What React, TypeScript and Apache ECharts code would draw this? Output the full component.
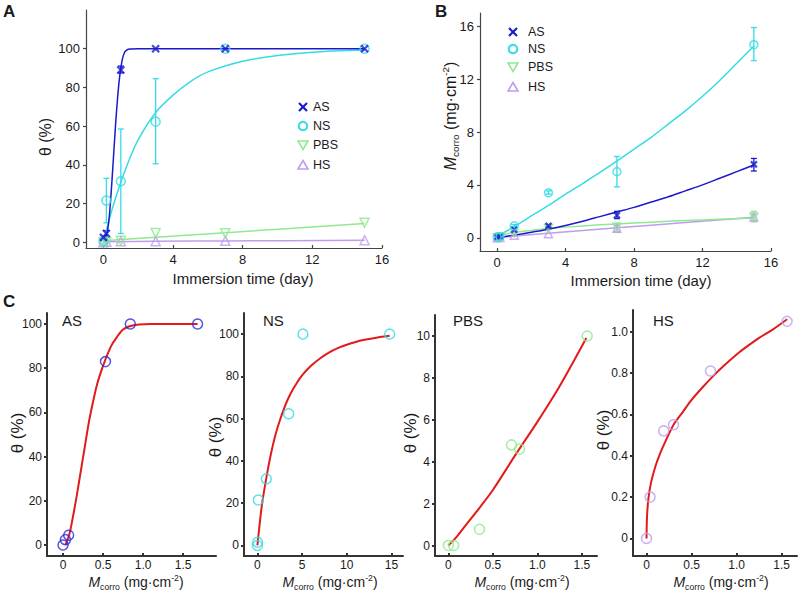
import React, { useEffect, useRef } from "react";
import * as echarts from "echarts";

// ---------- Panel A: theta (%) vs immersion time ----------
const timeA = [0, 0.17, 1, 3, 7, 15];
const thetaAS_A = [2.5, 4.5, 89, 100, 100, 100];
const thetaNS_A = [0.5, 21.5, 31.5, 62.3, 100, 100];
const thetaPBS_A = [0, 0, 0.8, 4.8, 4.6, 10];
const thetaHS_A = [0, 0.2, 0.52, 0.55, 0.81, 1.05];
const errAS_A = [[0.17, 2.5, 6], [1, 87.5, 91]];
const errNS_A = [[0.17, 10, 33], [1, 4.5, 58.5], [3, 40.5, 84.5]];
const fitAS_A_t = [0.1, 0.2, 0.3, 0.4, 0.5, 0.6, 0.7, 0.8, 0.9, 1.0, 1.1, 1.2, 1.3, 1.5, 2, 15];
const fitAS_A_v = [0, 4, 10, 20, 33, 47, 61, 73, 83, 90, 95, 97.8, 99, 99.8, 100, 100];
const fitNS_A_t = [0, 0.5, 1, 1.5, 2, 3, 4, 5, 6, 8, 10, 12, 15];
const fitNS_A_v = [0, 17, 31, 43, 53, 67, 76, 83, 88, 93.5, 96.5, 98.2, 99.3];
const fitPBS_A_t = [0, 3, 7, 15];
const fitPBS_A_v = [0.8, 2.6, 4.9, 9.6];
const fitHS_A_t = [0, 3, 7, 15];
const fitHS_A_v = [0.2, 0.45, 0.65, 1.0];

// ---------- Panel B: M_corro vs immersion time ----------
const timeB = [0, 0.17, 1, 3, 7, 15];
const mAS_B = [0.05, 0.1, 0.6, 0.9, 1.7, 5.55];
const mNS_B = [0.05, 0.1, 0.9, 3.4, 5.0, 14.6];
const mPBS_B = [0, 0.05, 0.35, 0.7, 0.8, 1.57];
const mHS_B = [0, 0.03, 0.2, 0.3, 0.72, 1.57];
const errAS_B = [[3, 0.8, 1.0], [7, 1.45, 2.0], [15, 5.05, 6.0]];
const errNS_B = [[1, 0.8, 1.0], [3, 3.3, 3.55], [7, 3.85, 6.15], [15, 13.4, 15.9]];
const errPBS_B = [[7, 0.4, 1.1], [15, 1.2, 2.0]];
const errHS_B = [[7, 0.5, 0.95], [15, 1.3, 1.8]];
const fitAS_B_t = [0, 1, 2, 3, 4, 5, 6, 7, 8, 9, 10, 11, 12, 13, 14, 15];
const fitAS_B_v = [0, 0.2, 0.42, 0.65, 0.93, 1.25, 1.6, 1.95, 2.3, 2.7, 3.1, 3.55, 4.0, 4.5, 5.0, 5.5];
const fitNS_B_t = [0, 1, 2, 3, 4, 5, 6, 7, 8, 9, 10, 11, 12, 13, 14, 15];
const fitNS_B_v = [0.1, 0.85, 1.65, 2.45, 3.3, 4.1, 4.95, 5.8, 6.7, 7.6, 8.6, 9.6, 10.7, 11.9, 13.2, 14.5];
const fitPBS_B_t = [0, 1, 2, 3, 5, 7, 9, 11, 13, 15];
const fitPBS_B_v = [0.15, 0.4, 0.56, 0.7, 0.9, 1.05, 1.18, 1.3, 1.4, 1.5];
const fitHS_B_t = [0, 3, 7, 11, 15];
const fitHS_B_v = [0, 0.35, 0.75, 1.15, 1.55];

// ---------- Panel C: theta vs M_corro ----------
const mAS_C = [0, 0.03, 0.07, 0.53, 0.84, 1.68];
const thAS_C = [0, 2.4, 4.4, 83, 100, 100];
const fitAS_C_m = [0.03, 0.08, 0.12, 0.17, 0.22, 0.27, 0.32, 0.37, 0.42, 0.48, 0.53, 0.6, 0.67, 0.75, 0.83, 0.95, 1.1, 1.68];
const fitAS_C_v = [0, 5, 12, 22, 33, 44, 55, 64, 72, 79, 84, 90, 94, 97.5, 99, 99.8, 100, 100];

const mNS_C = [0, 0.02, 0.1, 1.0, 3.5, 5.1, 14.8];
const thNS_C = [0, 1.5, 21.5, 31.5, 62.3, 100, 100];
const fitNS_C_m = [0, 0.25, 0.5, 1, 1.5, 2, 2.5, 3, 3.5, 4, 4.5, 5, 6, 7, 8, 9, 10, 11, 12, 13, 14.8];
const fitNS_C_v = [0, 10, 19, 32, 43, 52, 59, 65, 70, 74, 77.5, 80.5, 85, 88.5, 91.3, 93.4, 95, 96.3, 97.3, 98.1, 99.2];

const mPBS_C = [0, 0.06, 0.35, 0.71, 0.8, 1.56];
const thPBS_C = [0, 0, 0.77, 4.8, 4.6, 10];
const fitPBS_C_m = [0, 0.1, 0.2, 0.35, 0.5, 0.75, 1.0, 1.25, 1.55];
const fitPBS_C_v = [0, 0.45, 1.0, 1.8, 2.65, 4.3, 5.9, 7.6, 9.9];

const mHS_C = [0, 0.04, 0.19, 0.3, 0.71, 1.56];
const thHS_C = [0, 0.2, 0.52, 0.55, 0.81, 1.05];
const fitHS_C_m = [0, 0.005, 0.02, 0.05, 0.1, 0.15, 0.2, 0.3, 0.4, 0.5, 0.62, 0.75, 0.87, 1.0, 1.12, 1.25, 1.4, 1.56];
const fitHS_C_v = [0, 0.1, 0.19, 0.27, 0.35, 0.41, 0.46, 0.55, 0.61, 0.67, 0.73, 0.79, 0.84, 0.89, 0.93, 0.97, 1.01, 1.06];

// ---------- tick values ----------
const ticksTime = [0, 4, 8, 12, 16];
const ticksThetaA = [0, 20, 40, 60, 80, 100];
const ticksMB = [0, 4, 8, 12, 16];
const ticksC1x = [0, 0.5, 1.0, 1.5];
const ticksC2x = [0, 5, 10, 15];
const ticksC3x = [0, 0.5, 1.0, 1.5];
const ticksC4x = [0, 0.5, 1.0, 1.5];
const ticksC1y = [0, 20, 40, 60, 80, 100];
const ticksC2y = [0, 20, 40, 60, 80, 100];
const ticksC3y = [0, 2, 4, 6, 8, 10];
const ticksC4y = [0, 0.2, 0.4, 0.6, 0.8, 1.0];

const legendNames = ["AS", "NS", "PBS", "HS"];

const C_AS = "#1a1acd";
const C_NS = "#35dbe6";
const C_PBS = "#8fe98f";
const C_HS = "#bf9cf0";
const C_FIT = "#e31a1a";
const FONT = "'Liberation Sans', Arial, Helvetica, sans-serif";

const SYM_CROSS = "path://M0,0L10,10M10,0L0,10";
const SYM_DOWN = "path://M0,0L10,0L5,9Z";
const SYM_UP = "path://M5,0L10,9L0,9Z";

const zip = (a: number[], b: number[]) => a.map((v, i) => [v, b[i]]);
const fmt1 = (v: number) => (v === 0 ? "0" : v.toFixed(1));

function axes(gi: number, xr: number[], xt: number[], yr: number[], yt: number[], st: any, xf?: any, yf?: any) {
  const ls = { color: st.color, width: st.width };
  const lab = { fontSize: st.font, color: "#1a1a1a", fontFamily: FONT };
  return {
    x: {
      type: "value", gridIndex: gi, min: xr[0], max: xr[1],
      axisLine: { show: true, onZero: false, lineStyle: ls },
      axisTick: { show: true, inside: true, length: 3, customValues: xt, lineStyle: ls },
      axisLabel: { ...lab, margin: st.xm, customValues: xt, formatter: xf || ((v: number) => String(v)) },
      splitLine: { show: false },
    },
    y: {
      type: "value", gridIndex: gi, min: yr[0], max: yr[1],
      axisLine: { show: true, onZero: false, lineStyle: ls },
      axisTick: { show: true, inside: false, length: 3, customValues: yt, lineStyle: ls },
      axisLabel: { ...lab, margin: st.ym, customValues: yt, formatter: yf || ((v: number) => String(v)) },
      splitLine: { show: false },
    },
  };
}

const styleAB = { color: "#444444", width: 1.2, font: 13, xm: 5, ym: 6 };
const styleC = { color: "#333333", width: 2, font: 12, xm: 3, ym: 5 };

function scatter(idx: number, data: number[][], symbol: string, size: number, color: string, bw = 1.5) {
  return {
    type: "scatter", xAxisIndex: idx, yAxisIndex: idx, data, symbol, symbolSize: size,
    itemStyle: { color: "transparent", borderColor: color, borderWidth: bw },
    z: 4, silent: true,
  };
}

function fit(idx: number, data: number[][], color: string, width = 1.5) {
  return {
    type: "line", xAxisIndex: idx, yAxisIndex: idx, data, symbol: "none", showSymbol: false,
    smooth: 0.3, lineStyle: { color, width }, z: 3, silent: true,
  };
}

function errBars(idx: number, data: number[][], color: string, cap = 3) {
  return {
    type: "custom", xAxisIndex: idx, yAxisIndex: idx, data, z: 2, silent: true,
    encode: { x: 0, y: [1, 2] },
    renderItem: (_p: any, api: any) => {
      const x = api.value(0), lo = api.value(1), hi = api.value(2);
      const a = api.coord([x, lo]);
      const b = api.coord([x, hi]);
      const st = { stroke: color, lineWidth: 1.3 };
      return {
        type: "group",
        children: [
          { type: "line", shape: { x1: a[0], y1: a[1], x2: b[0], y2: b[1] }, style: st },
          { type: "line", shape: { x1: a[0] - cap, y1: a[1], x2: a[0] + cap, y2: a[1] }, style: st },
          { type: "line", shape: { x1: b[0] - cap, y1: b[1], x2: b[0] + cap, y2: b[1] }, style: st },
        ],
      };
    },
  };
}

function legendGraphic(x: number, ys: number[], tx: number) {
  const els: any[] = [];
  const cols = [C_AS, C_NS, C_PBS, C_HS];
  ys.forEach((y, i) => {
    const c = cols[i];
    if (i === 0) {
      els.push({ type: "line", shape: { x1: x - 4, y1: y - 4, x2: x + 4, y2: y + 4 }, style: { stroke: c, lineWidth: 2.2 } });
      els.push({ type: "line", shape: { x1: x - 4, y1: y + 4, x2: x + 4, y2: y - 4 }, style: { stroke: c, lineWidth: 2.2 } });
    } else if (i === 1) {
      els.push({ type: "circle", shape: { cx: x, cy: y, r: 4.3 }, style: { fill: "none", stroke: c, lineWidth: 2 } });
    } else if (i === 2) {
      els.push({ type: "polygon", shape: { points: [[x - 5, y - 4], [x + 5, y - 4], [x, y + 4.5]] }, style: { fill: "none", stroke: c, lineWidth: 1.6 } });
    } else {
      els.push({ type: "polygon", shape: { points: [[x, y - 4.5], [x + 5, y + 4], [x - 5, y + 4]] }, style: { fill: "none", stroke: c, lineWidth: 1.6 } });
    }
    els.push({ type: "text", x: tx, y, style: { text: legendNames[i], fontSize: 12.5, fontFamily: FONT, fill: "#1a1a1a", align: "left", verticalAlign: "middle" } });
  });
  return els;
}

const mRich = (size: number) => ({
  i: { fontSize: size, fontStyle: "italic", fontFamily: FONT, fill: "#1a1a1a", lineHeight: size + 4, verticalAlign: "middle" },
  n: { fontSize: size, fontFamily: FONT, fill: "#1a1a1a", lineHeight: size + 4, verticalAlign: "middle" },
  s: { fontSize: size * 0.62, fontFamily: FONT, fill: "#1a1a1a", lineHeight: size * 0.62, verticalAlign: "bottom" },
  p: { fontSize: size * 0.62, fontFamily: FONT, fill: "#1a1a1a", lineHeight: size * 0.62, verticalAlign: "top" },
});
const mText = "{i|M}{s|corro}{n| (mg·cm}{p|-2}{n|)}";

function txt(x: number, y: number, text: string, size: number, opts: any = {}) {
  return {
    type: "text", x, y, rotation: opts.rot || 0,
    style: {
      text, fontSize: size, fontFamily: FONT, fill: "#1a1a1a",
      fontWeight: opts.bold ? "bold" : "normal",
      align: opts.align || "center", verticalAlign: opts.va || "middle",
      rich: opts.rich,
    },
  };
}

export default function App() {
  const ref = useRef<HTMLDivElement>(null);
  useEffect(() => {
    if (!ref.current) return;
    const chart = echarts.init(ref.current, null, { renderer: "svg" });
    const aA = axes(0, [-1, 16], ticksTime, [-3, 120], ticksThetaA, styleAB);
    const aB = axes(1, [-1, 16], ticksTime, [-1, 17], ticksMB, styleAB);
    const a1 = axes(2, [-0.2, 1.91], ticksC1x, [-5, 105], ticksC1y, styleC, fmt1);
    const a2 = axes(3, [-1.5, 16.3], ticksC2x, [-5, 110], ticksC2y, styleC);
    const a3 = axes(4, [-0.15, 1.67], ticksC3x, [-0.5, 11], ticksC3y, styleC, fmt1);
    const a4 = axes(5, [-0.15, 1.67], ticksC4x, [-0.085, 1.105], ticksC4y, styleC, fmt1, fmt1);

    const option: any = {
      animation: false,
      backgroundColor: "#ffffff",
      grid: [
        { left: 86, top: 10, width: 296, height: 238 },
        { left: 480, top: 13, width: 291, height: 238 },
        { left: 47, top: 313, width: 169, height: 243 },
        { left: 244, top: 313, width: 159, height: 243 },
        { left: 435, top: 315, width: 162, height: 241 },
        { left: 633, top: 310, width: 164, height: 246 },
      ],
      xAxis: [aA.x, aB.x, a1.x, a2.x, a3.x, a4.x],
      yAxis: [aA.y, aB.y, a1.y, a2.y, a3.y, a4.y],
      series: [
        // Panel A
        errBars(0, errAS_A, C_AS),
        errBars(0, errNS_A, C_NS),
        fit(0, zip(fitHS_A_t, fitHS_A_v), C_HS),
        fit(0, zip(fitPBS_A_t, fitPBS_A_v), C_PBS),
        fit(0, zip(fitNS_A_t, fitNS_A_v), C_NS),
        fit(0, zip(fitAS_A_t, fitAS_A_v), C_AS),
        scatter(0, zip(timeA, thetaHS_A), SYM_UP, 9, C_HS),
        scatter(0, zip(timeA, thetaPBS_A), SYM_DOWN, 9, C_PBS),
        scatter(0, zip(timeA, thetaNS_A), "circle", 9, C_NS),
        scatter(0, zip(timeA, thetaAS_A), SYM_CROSS, 7, C_AS, 2.2),
        // Panel B
        errBars(1, errHS_B, C_HS),
        errBars(1, errPBS_B, C_PBS),
        errBars(1, errAS_B, C_AS),
        errBars(1, errNS_B, C_NS),
        fit(1, zip(fitHS_B_t, fitHS_B_v), C_HS),
        fit(1, zip(fitPBS_B_t, fitPBS_B_v), C_PBS),
        fit(1, zip(fitAS_B_t, fitAS_B_v), C_AS),
        fit(1, zip(fitNS_B_t, fitNS_B_v), C_NS),
        scatter(1, zip(timeB, mHS_B), SYM_UP, 8, C_HS),
        scatter(1, zip(timeB, mPBS_B), SYM_DOWN, 8, C_PBS),
        scatter(1, zip(timeB, mAS_B), SYM_CROSS, 6, C_AS, 2.2),
        scatter(1, zip(timeB, mNS_B), "circle", 8, C_NS),
        // Panel C
        fit(2, zip(fitAS_C_m, fitAS_C_v), C_FIT, 2),
        scatter(2, zip(mAS_C, thAS_C), "circle", 10, "#2a2ad6"),
        fit(3, zip(fitNS_C_m, fitNS_C_v), C_FIT, 2),
        scatter(3, zip(mNS_C, thNS_C), "circle", 10, C_NS),
        fit(4, zip(fitPBS_C_m, fitPBS_C_v), C_FIT, 2),
        scatter(4, zip(mPBS_C, thPBS_C), "circle", 10, C_PBS),
        fit(5, zip(fitHS_C_m, fitHS_C_v), C_FIT, 2),
        scatter(5, zip(mHS_C, thHS_C), "circle", 10, C_HS),
      ],
      graphic: [
        txt(3, 3, "A", 17, { bold: true, align: "left", va: "top" }),
        txt(435, 3, "B", 17, { bold: true, align: "left", va: "top" }),
        txt(3, 293, "C", 17, { bold: true, align: "left", va: "top" }),
        txt(45, 137, "θ (%)", 16, { rot: Math.PI / 2 }),
        txt(243, 278, "Immersion time (day)", 15),
        txt(450, 116, mText, 16, { rot: Math.PI / 2, rich: mRich(16) }),
        txt(641, 280, "Immersion time (day)", 15),
        txt(17, 433, "θ (%)", 17, { rot: Math.PI / 2 }),
        txt(215, 437, "θ (%)", 17, { rot: Math.PI / 2 }),
        txt(410, 433, "θ (%)", 17, { rot: Math.PI / 2 }),
        txt(603, 430, "θ (%)", 17, { rot: Math.PI / 2 }),
        txt(136, 582, mText, 14, { rich: mRich(14) }),
        txt(330, 582, mText, 14, { rich: mRich(14) }),
        txt(522, 582, mText, 14, { rich: mRich(14) }),
        txt(721, 582, mText, 14, { rich: mRich(14) }),
        txt(62, 320, "AS", 15, { align: "left" }),
        txt(263, 320, "NS", 15, { align: "left" }),
        txt(453, 320, "PBS", 15, { align: "left" }),
        txt(653, 320, "HS", 15, { align: "left" }),
        ...legendGraphic(303, [107, 126, 145, 165], 313),
        ...legendGraphic(513, [32, 49, 67, 87], 528),
      ],
    };
    chart.setOption(option);
    return () => chart.dispose();
  }, []);
  return (
    <div
      ref={ref}
      style={{ position: "fixed", left: 0, top: 0, width: 800, height: 590, background: "#fff" }}
    />
  );
}
